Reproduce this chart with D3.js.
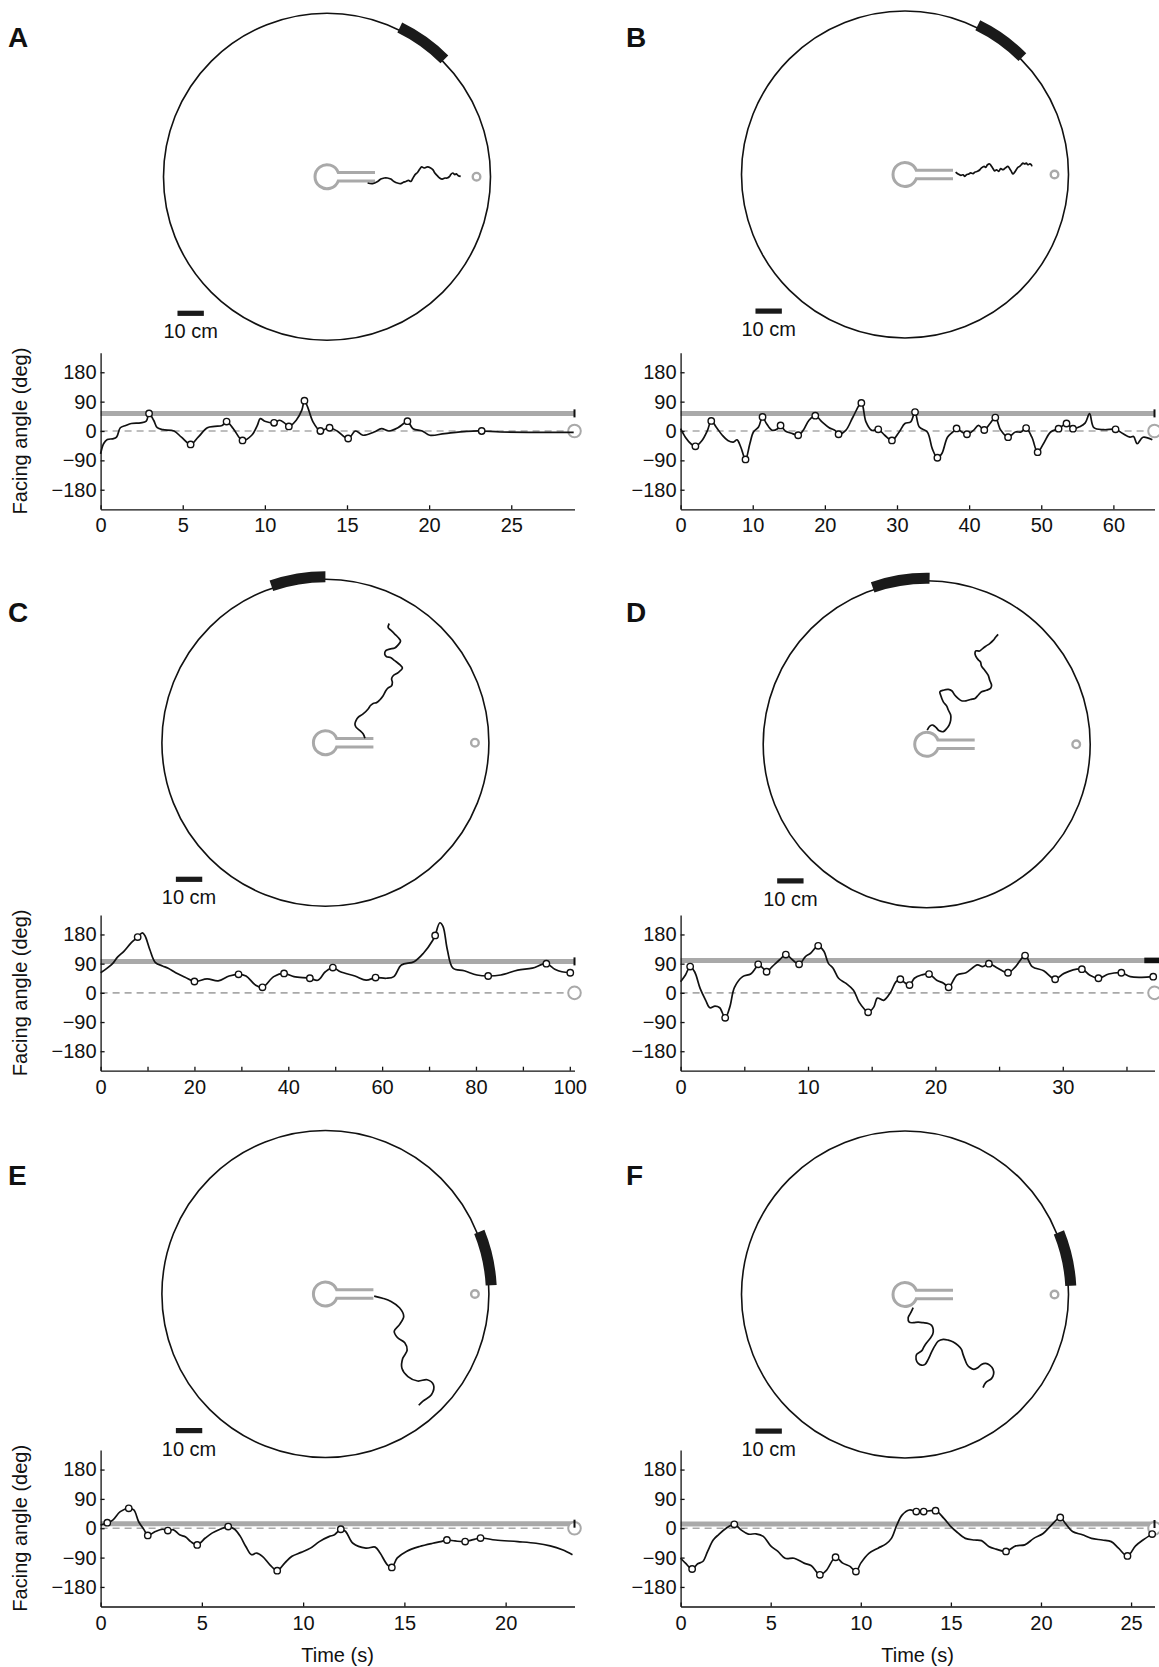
<!DOCTYPE html>
<html><head><meta charset="utf-8">
<script src="https://cdn.jsdelivr.net/npm/d3@7"></script>
<style>
body{margin:0;background:#fff}
svg{display:block}
text{font-family:"Liberation Sans",Arial,Helvetica,sans-serif;fill:#111}
</style>
</head><body>
<svg id="chart" width="1159" height="1667"></svg>
<script>
// ---------------- DATA ----------------
const panelIds = ["A","B","C","D","E","F"];
const yTicks = [-180,-90,0,90,180];
const yTickLabels = ["\u2212180","\u221290","0","90","180"];
const yDomain = [-240,240];
const arenaRadiusCm = 62;
const scaleBarCm = 10;
const scaleBarLabel = "10 cm";
const targetPos = [56.7, 0];          // cm, relative to arena centre
const scaleBarPos = [-56.7, -51.8];   // cm (left end of bar)
const yAxisTitle = "Facing angle (deg)";
const xAxisTitle = "Time (s)";

const durationA = 28.85, durationB = 65.7, durationC = 101, durationD = 37.2, durationE = 23.4, durationF = 26.3;
const xTicksA = [0,5,10,15,20,25];
const xTicksB = [0,10,20,30,40,50,60];
const xTicksC = [0,20,40,60,80,100];
const xTicksD = [0,10,20,30];
const xTicksE = [0,5,10,15,20];
const xTicksF = [0,5,10,15,20,25];
const xMinorC = [10,30,50,70,90];
const xMinorD = [5,15,25,35];

const thresholdA = 54, thresholdB = 54, thresholdC = 97, thresholdD = 100, thresholdE = 14, thresholdF = 13;
const blackStartA = 28.85, blackStartB = 65.7, blackStartC = 101, blackStartD = 36.4, blackStartE = 23.4, blackStartF = 26.3;

// goal zone on arena wall: [from, to] degrees, counter-clockwise from east
const goalA = [45,64], goalB = [45,64], goalC = [90,109], goalD = [89,109], goalE = [3,22], goalF = [3,22];

// facing angle traces: [time s, angle deg, marker]
const traceA = [[0,-70],[0.18,-39],[0.41,-26],[0.74,-24],[0.97,-19],[1.2,10],[1.53,17],[1.87,23],[2.44,25],[2.78,30],[2.95,54,1],[3.23,33],[3.45,10],[3.79,4],[4.47,0],[4.92,-19],[5.48,-41,1],[5.94,-19],[6.5,10],[6.95,14],[7.4,17],[7.67,29,1],[8.08,7],[8.64,-29,1],[9.2,-13],[9.54,17],[9.72,38],[10.0,30],[10.56,25,1],[10.9,33],[11.19,25],[11.46,14,1],[11.91,33],[12.25,64],[12.41,93,1],[12.6,74],[12.93,28],[13.38,0,1],[13.72,7],[13.94,10,1],[14.4,0],[15.07,-23,1],[15.52,0],[15.97,-13],[16.65,-3],[17.1,7],[17.55,0],[18.1,10],[18.46,23],[18.68,30,1],[19.02,7],[19.58,0],[20.04,-13],[20.94,-8],[22.29,-1],[23.2,0,1],[24.32,-3],[26.58,-4],[28.8,-4]];
const traceB = [[0,7],[0.66,-19],[1.43,-39],[2.05,-47,1],[2.97,-29],[3.73,2],[4.25,31,1],[5.0,10],[5.78,-13],[6.55,-29],[7.3,-34],[7.83,-27],[8.34,-49],[9.0,-87,1],[9.6,-39],[10.1,-3],[10.8,12],[11.36,43,1],[11.9,23],[12.7,2],[13.45,7],[13.86,17,1],[14.5,0],[15.5,-8],[16.3,-13,1],[17.0,2],[17.8,33],[18.67,47,1],[19.6,28],[20.6,10],[21.4,2],[21.9,-10,1],[22.9,2],[23.9,43],[25.06,86,1],[25.7,28],[26.5,2],[27.4,5,1],[28.3,-13],[29.3,-29,1],[30.3,-3],[31.1,23],[31.9,28],[32.5,58,1],[33.1,12],[34.2,-3],[34.9,-55],[35.6,-82,1],[36.2,-70],[37.0,-19],[37.75,-3],[38.26,8,1],[39.0,-3],[39.7,-10,1],[40.6,2],[41.3,17],[42.1,3,1],[42.9,23],[43.63,41,1],[44.4,2],[45.4,-19,1],[46.4,-3],[47.2,-3],[47.9,9,1],[48.7,-19],[49.5,-65,1],[50.3,-39],[51.3,-3],[52.4,7,1],[53.5,23,1],[54.4,7,1],[55.4,14],[56.1,25],[56.7,53],[57.3,10],[58.7,4],[60.3,5,1],[61.3,-8],[62.3,-19],[62.8,-17],[63.3,-39],[64.1,-19],[65.4,-27]];
const traceC = [[0,62],[1.4,76],[2.6,91],[3.6,110],[4.96,128],[6.5,154],[7.9,172,1],[8.9,185],[9.46,176],[10.5,133],[11.7,93],[13.2,83],[14.4,76],[16.0,62],[18.0,48],[20.0,35,1],[22.7,43],[25.06,37],[27.4,52],[29.4,57,1],[31.0,52],[33.0,24],[34.5,17,1],[36.9,50],[39.1,60,1],[41.2,50],[44.6,45,1],[46.3,39],[47.9,65],[49.5,78,1],[51.1,65],[54.2,52],[56.6,39],[58.6,47,1],[60.9,45],[62.5,50],[64.1,86],[66.8,96],[68.8,122],[70.8,162],[71.3,177,1],[72.3,216],[72.97,205],[73.9,133],[75.1,76],[77.5,68],[80.2,55],[82.6,52,1],[85.3,55],[88.9,70],[92.0,76],[95.0,90,1],[96.8,73],[98.3,65],[100.1,62,1]];
const traceD = [[0,34],[0.38,55],[0.75,81,1],[1.1,65],[1.54,13],[1.97,-23],[2.3,-46],[2.7,-41],[3.07,-46],[3.5,-77,1],[3.86,-44],[4.23,17],[4.87,50],[5.5,58],[5.88,76],[6.09,88,1],[6.46,76],[6.75,65,1],[7.19,81],[7.77,102],[8.26,118,1],[8.78,102],[9.3,88,1],[9.8,112],[10.2,122],[10.8,145,1],[11.25,128],[11.6,91],[11.97,76],[12.4,45],[12.99,29],[13.57,8],[14.0,-28],[14.4,-49],[14.72,-60,1],[15.16,-44],[15.45,-16],[15.94,-23],[16.5,3],[16.9,34],[17.25,42,1],[17.6,31],[17.97,24,1],[18.35,45],[18.9,55],[19.5,58,1],[20.1,39],[20.67,29],[21.04,17,1],[21.7,55],[22.4,62],[23.3,86],[23.7,81],[24.2,90,1],[24.9,76],[25.7,62,1],[26.3,81],[27.04,115,1],[27.6,81],[28.5,68],[29.4,42,1],[30.1,60],[31.5,73,1],[32.1,55],[32.8,45,1],[33.6,58],[34.6,62,1],[35.3,50],[36.2,48],[37.1,50,1]];
const traceE = [[0,10],[0.33,17,1],[0.6,25],[0.97,51],[1.39,61,1],[1.64,56],[1.88,20],[2.15,-5],[2.33,-22,1],[2.7,-10],[3.06,-3],[3.32,-7,1],[3.6,-5],[3.9,-20],[4.2,-27],[4.45,-41],[4.77,-51,1],[5.17,-30],[5.5,-15],[5.9,-3],[6.3,5,1],[6.62,-3],[6.9,-25],[7.17,-56],[7.45,-81],[7.7,-76],[7.99,-86],[8.36,-112],[8.72,-130,1],[9.1,-106],[9.45,-86],[9.9,-74],[10.36,-61],[10.8,-41],[11.3,-25],[11.55,-20],[11.86,-3,1],[12.1,-10],[12.46,-46],[13.1,-61],[13.56,-58],[13.8,-76],[14.16,-112],[14.38,-120,1],[14.65,-91],[15.1,-71],[15.75,-56],[16.4,-46],[16.8,-41],[17.1,-36,1],[17.5,-39],[18.0,-41,1],[18.4,-35],[18.76,-30,1],[19.5,-36],[20.6,-41],[21.5,-46],[22.2,-54],[22.8,-66],[23.3,-81]];
const traceF = [[0,-92],[0.27,-107],[0.64,-125,1],[0.95,-109],[1.23,-102],[1.5,-71],[1.81,-36],[2.1,-20],[2.53,0],[2.98,12,1],[3.35,-5],[3.76,-18],[4.18,-17],[4.59,-25],[5.0,-54],[5.4,-71],[5.8,-92],[6.3,-92],[6.85,-107],[7.26,-115],[7.73,-143,1],[8.08,-130],[8.6,-89,1],[9.0,-107],[9.4,-117],[9.73,-133,1],[10.0,-107],[10.45,-77],[10.96,-61],[11.4,-48],[11.7,-31],[12.0,10],[12.3,41],[12.7,56],[13.08,51,1],[13.49,51,1],[14.15,54,1],[14.6,31],[15.0,5],[15.3,-10],[15.8,-31],[16.3,-36],[16.7,-38],[17.1,-56],[17.5,-64],[18.06,-71,1],[18.6,-54],[19.1,-51],[19.6,-31],[20.1,-17],[20.5,5],[21.07,33,1],[21.35,15],[21.75,-10],[22.3,-20],[22.8,-31],[23.4,-36],[23.9,-41],[24.3,-61],[24.8,-85,1],[25.25,-54],[25.66,-36],[26.17,-18,1]];

// trajectories in cm relative to arena centre (x east, y north)
const trajA = [[15.4,-2.4],[17.3,-2.6],[19.2,-1.8],[20.4,-0.9],[21.7,-0.5],[22.9,-0.5],[24.2,-0.9],[25.4,-1.8],[26.7,-2.4],[28.0,-2.6],[28.8,-2.2],[29.9,-1.8],[30.9,-1.4],[31.8,-1.8],[32.4,-0.9],[33.4,0.8],[34.3,1.6],[35.2,2.9],[35.9,3.7],[36.8,3.3],[38.1,3.7],[39.3,3.3],[40.2,2.6],[40.9,1.4],[41.8,0.4],[42.7,-0.5],[43.7,-0.9],[44.7,-0.5],[45.6,-0.5],[46.5,0.1],[46.9,0.8],[47.7,1.4],[48.5,0.8],[49.0,1.1],[49.8,0.4],[50.7,0.1]];
const trajB = [[19.2,0.9],[20.1,0.2],[21.2,-0.3],[22.0,-0.1],[22.7,-0.7],[23.3,-0.1],[24.2,0.2],[24.9,0.6],[25.8,0.3],[26.5,0.9],[27.5,1.2],[28.4,1.8],[29.0,2.5],[30.0,3.1],[30.6,2.7],[31.3,3.7],[32.1,4.0],[32.8,3.1],[33.4,2.2],[34.0,1.4],[34.7,1.8],[35.5,1.2],[36.3,2.2],[37.2,1.8],[38.1,2.5],[39.0,3.1],[39.7,2.2],[40.3,1.2],[40.9,0.2],[41.6,0.9],[42.2,1.8],[42.8,2.7],[43.5,3.1],[44.1,3.7],[44.7,4.3],[45.4,4.0],[46.0,4.3],[46.6,3.7],[47.3,4.0],[47.9,3.7],[48.1,3.1]];
const trajC = [[15.0,1.7],[14.3,3.4],[13.1,4.6],[11.6,5.9],[11.2,7.1],[11.6,8.4],[12.4,9.6],[14.3,10.9],[16.2,12.8],[17.1,14.1],[18.1,14.9],[19.4,15.2],[20.6,16.2],[21.9,17.8],[22.9,19.7],[23.8,20.8],[25.1,21.6],[25.4,22.9],[25.1,24.2],[25.7,25.4],[27.6,26.6],[29.2,28.3],[28.2,29.6],[26.3,31.1],[24.7,32.3],[23.2,32.6],[22.5,33.6],[22.9,34.9],[24.4,35.5],[26.3,35.9],[27.6,37.1],[28.5,38.6],[27.6,39.9],[26.3,41.2],[25.1,42.4],[23.8,43.7],[24.2,45.2]];
const trajD = [[0.2,5.4],[1.2,6.9],[2.3,7.3],[3.5,6.4],[4.8,5.1],[6.3,4.8],[7.6,6.0],[8.5,7.3],[9.1,9.2],[9.1,11.1],[8.2,13.0],[7.6,14.5],[6.3,16.1],[5.3,18.6],[5.0,19.9],[6.3,20.5],[8.2,20.8],[9.5,20.3],[10.7,18.6],[11.9,17.4],[13.2,16.5],[14.9,16.5],[16.6,17.0],[18.3,17.4],[19.5,18.6],[20.8,19.9],[22.7,20.5],[24.2,21.2],[24.6,22.4],[23.9,24.3],[23.3,26.2],[22.0,28.1],[20.8,29.6],[20.4,31.2],[19.5,32.1],[18.6,33.4],[18.3,34.4],[18.6,35.4],[20.1,35.4],[21.2,36.3],[22.4,37.2],[23.9,38.2],[25.2,39.4],[26.2,40.7],[27.1,41.7]];
const trajE = [[18.5,-0.8],[21.7,-1.6],[24.9,-2.8],[28.1,-5.2],[29.7,-8.4],[28.1,-11.6],[26.1,-14.1],[27.3,-16.5],[30.1,-18.5],[31.0,-21.3],[29.3,-24.5],[29.0,-28.1],[31.3,-31.3],[35.0,-33.0],[38.6,-32.5],[41.0,-34.5],[40.2,-38.2],[37.0,-40.6],[35.4,-42.2]];
const trajF = [[3.1,-5.0],[2.2,-6.9],[1.2,-8.8],[1.6,-10.5],[3.1,-10.7],[5.0,-10.5],[6.9,-10.7],[8.8,-11.0],[10.1,-11.7],[10.7,-13.2],[10.5,-15.1],[9.5,-16.7],[8.2,-18.3],[7.2,-19.8],[6.3,-21.4],[4.4,-22.7],[4.2,-24.6],[5.0,-26.1],[6.3,-26.8],[7.6,-26.5],[8.8,-24.6],[10.1,-21.8],[11.3,-19.5],[12.6,-17.7],[14.5,-17.0],[16.4,-17.3],[18.3,-18.0],[20.1,-19.3],[21.4,-20.8],[22.0,-22.7],[22.7,-24.6],[23.5,-26.5],[24.6,-27.7],[26.1,-28.4],[27.7,-27.7],[29.0,-26.5],[30.6,-26.1],[32.1,-26.8],[33.4,-28.4],[33.6,-30.2],[32.8,-31.9],[30.6,-33.4],[29.6,-35.3]];

// ---------------- LAYOUT (positions / styles) ----------------
const layout = {
  A:{lx:8,  ly:47,    cx:327,   cy:176.7, x0:100.6, x1:574.5,  y0:352.7, y1:509.3, ylab:true,  xlab:false},
  B:{lx:626,ly:47,    cx:905,   cy:174.5, x0:680.6, x1:1154.5, y0:352.7, y1:509.3, ylab:false, xlab:false},
  C:{lx:8,  ly:621.5, cx:325.4, cy:742.7, x0:100.6, x1:574.5,  y0:915,   y1:1070.7,ylab:true,  xlab:false},
  D:{lx:626,ly:621.5, cx:926.7, cy:744.3, x0:680.6, x1:1154.5, y0:915,   y1:1070.7,ylab:false, xlab:false},
  E:{lx:8,  ly:1185,  cx:325.4, cy:1294,  x0:100.6, x1:574.5,  y0:1450,  y1:1606.5,ylab:true,  xlab:true},
  F:{lx:626,ly:1185,  cx:905,   cy:1294.5,x0:680.6, x1:1154.5, y0:1450,  y1:1606.5,ylab:false, xlab:true}
};
const dataFor = {
  A:{dur:durationA,ticks:xTicksA,minor:[],thr:thresholdA,blk:blackStartA,goal:goalA,trace:traceA,traj:trajA},
  B:{dur:durationB,ticks:xTicksB,minor:[],thr:thresholdB,blk:blackStartB,goal:goalB,trace:traceB,traj:trajB},
  C:{dur:durationC,ticks:xTicksC,minor:xMinorC,thr:thresholdC,blk:blackStartC,goal:goalC,trace:traceC,traj:trajC},
  D:{dur:durationD,ticks:xTicksD,minor:xMinorD,thr:thresholdD,blk:blackStartD,goal:goalD,trace:traceD,traj:trajD},
  E:{dur:durationE,ticks:xTicksE,minor:[],thr:thresholdE,blk:blackStartE,goal:goalE,trace:traceE,traj:trajE},
  F:{dur:durationF,ticks:xTicksF,minor:[],thr:thresholdF,blk:blackStartF,goal:goalF,trace:traceF,traj:trajF}
};
const R = 163.5;
const GRAY = "#a9a9a9";
const FS = "20px";
const svg = d3.select("#chart");

panelIds.forEach(id => {
  const L = layout[id], D = dataFor[id];
  const g = svg.append("g");

  // panel letter
  g.append("text").attr("x",L.lx).attr("y",L.ly).text(id)
    .style("font-size","28px").style("font-weight","bold");

  // ---- arena ----
  const ax = d3.scaleLinear().domain([-arenaRadiusCm, arenaRadiusCm]).range([L.cx-R, L.cx+R]);
  const ay = d3.scaleLinear().domain([-arenaRadiusCm, arenaRadiusCm]).range([L.cy+R, L.cy-R]);
  const rPx = ax(arenaRadiusCm) - ax(0);
  g.append("circle").attr("cx",ax(0)).attr("cy",ay(0)).attr("r",rPx)
    .attr("fill","none").attr("stroke","#111").attr("stroke-width",1.6);
  const toRad = a => (90 - a) * Math.PI / 180;
  const arc = d3.arc().innerRadius(rPx-3).outerRadius(rPx+8)
    .startAngle(toRad(D.goal[1])).endAngle(toRad(D.goal[0]));
  g.append("path").attr("d",arc()).attr("transform",`translate(${ax(0)},${ay(0)})`).attr("fill","#1a1a1a");

  // keyhole (start box)
  const kx = ax(0), ky = ay(0), kr = 12, kh = 4.2, kl = 48;
  const kxx = Math.sqrt(kr*kr - kh*kh);
  g.append("path")
    .attr("d",`M${kx+kl},${ky-kh} L${kx+kxx},${ky-kh} A${kr},${kr} 0 1 0 ${kx+kxx},${ky+kh} L${kx+kl},${ky+kh}`)
    .attr("fill","none").attr("stroke",GRAY).attr("stroke-width",3);
  // target
  g.append("circle").attr("cx",ax(targetPos[0])).attr("cy",ay(targetPos[1])).attr("r",3.8)
    .attr("fill","none").attr("stroke",GRAY).attr("stroke-width",2.4);
  // trajectory
  g.append("path").datum(D.traj)
    .attr("d",d3.line().x(d=>ax(d[0])).y(d=>ay(d[1])).curve(d3.curveCatmullRom))
    .attr("fill","none").attr("stroke","#111").attr("stroke-width",1.7).attr("stroke-linejoin","round");
  // scale bar
  const bx0 = ax(scaleBarPos[0]), bx1 = ax(scaleBarPos[0]+scaleBarCm), by = ay(scaleBarPos[1]);
  g.append("rect").attr("x",bx0).attr("y",by-2.6).attr("width",bx1-bx0).attr("height",5.2).attr("fill","#1a1a1a");
  g.append("text").attr("x",(bx0+bx1)/2).attr("y",by+25).attr("text-anchor","middle")
    .style("font-size",FS).text(scaleBarLabel);

  // ---- facing angle plot ----
  const x = d3.scaleLinear().domain([0,D.dur]).range([L.x0,L.x1]);
  const y = d3.scaleLinear().domain(yDomain).range([L.y1,L.y0]);

  // threshold band
  g.append("line").attr("x1",x(0)).attr("x2",x(D.dur)).attr("y1",y(D.thr)).attr("y2",y(D.thr))
    .attr("stroke",GRAY).attr("stroke-width",5);
  // zero dashed line
  g.append("line").attr("x1",x(0)).attr("x2",x(D.dur)).attr("y1",y(0)).attr("y2",y(0))
    .attr("stroke",GRAY).attr("stroke-width",1.6).attr("stroke-dasharray","7,5");
  // end circle
  g.append("circle").attr("cx",x(D.dur)).attr("cy",y(0)).attr("r",6.3)
    .attr("fill","#fff").attr("stroke",GRAY).attr("stroke-width",2);
  // trace
  g.append("path").datum(D.trace)
    .attr("d",d3.line().x(d=>x(d[0])).y(d=>y(d[1])).curve(d3.curveCatmullRom.alpha(0.5)))
    .attr("fill","none").attr("stroke","#111").attr("stroke-width",1.7);
  g.selectAll(null).data(D.trace.filter(d=>d[2])).join("circle")
    .attr("cx",d=>x(d[0])).attr("cy",d=>y(d[1])).attr("r",3.2)
    .attr("fill","#fff").attr("stroke","#111").attr("stroke-width",1.4);
  // black end marker on threshold
  if (D.blk < D.dur) {
    g.append("rect").attr("x",x(D.blk)).attr("y",y(D.thr)-2.8)
      .attr("width",x(D.dur)-x(D.blk)+4.5).attr("height",5.6).attr("fill","#111");
  } else {
    g.append("rect").attr("x",x(D.dur)-1).attr("y",y(D.thr)-4)
      .attr("width",2).attr("height",8).attr("fill","#111");
  }

  // axes
  const yAxis = d3.axisLeft(y).tickValues(yTicks).tickSize(-4).tickSizeOuter(0).tickPadding(4)
    .tickFormat((d,i)=>yTickLabels[i]);
  const ya = g.append("g").attr("transform",`translate(${L.x0},0)`).call(yAxis);
  const allX = D.ticks.concat(D.minor).sort((a,b)=>a-b);
  const xAxis = d3.axisBottom(x).tickValues(allX).tickSize(-4).tickSizeOuter(0).tickPadding(9)
    .tickFormat(d => D.ticks.includes(d) ? String(d) : "");
  const xa = g.append("g").attr("transform",`translate(0,${L.y1})`).call(xAxis);
  [ya,xa].forEach(a=>{
    a.selectAll("path,line").attr("stroke","#111").attr("stroke-width",1.3);
    a.selectAll("text").style("font-size",FS).attr("fill","#111")
      .style("font-family","'Liberation Sans',Arial,Helvetica,sans-serif");
  });

  if (L.ylab) {
    g.append("text").attr("transform",`translate(27,${(L.y0+L.y1)/2}) rotate(-90)`)
      .attr("text-anchor","middle").style("font-size",FS).text(yAxisTitle);
  }
  if (L.xlab) {
    g.append("text").attr("x",(L.x0+L.x1)/2).attr("y",1662).attr("text-anchor","middle")
      .style("font-size",FS).text(xAxisTitle);
  }
});
</script>
</body></html>
